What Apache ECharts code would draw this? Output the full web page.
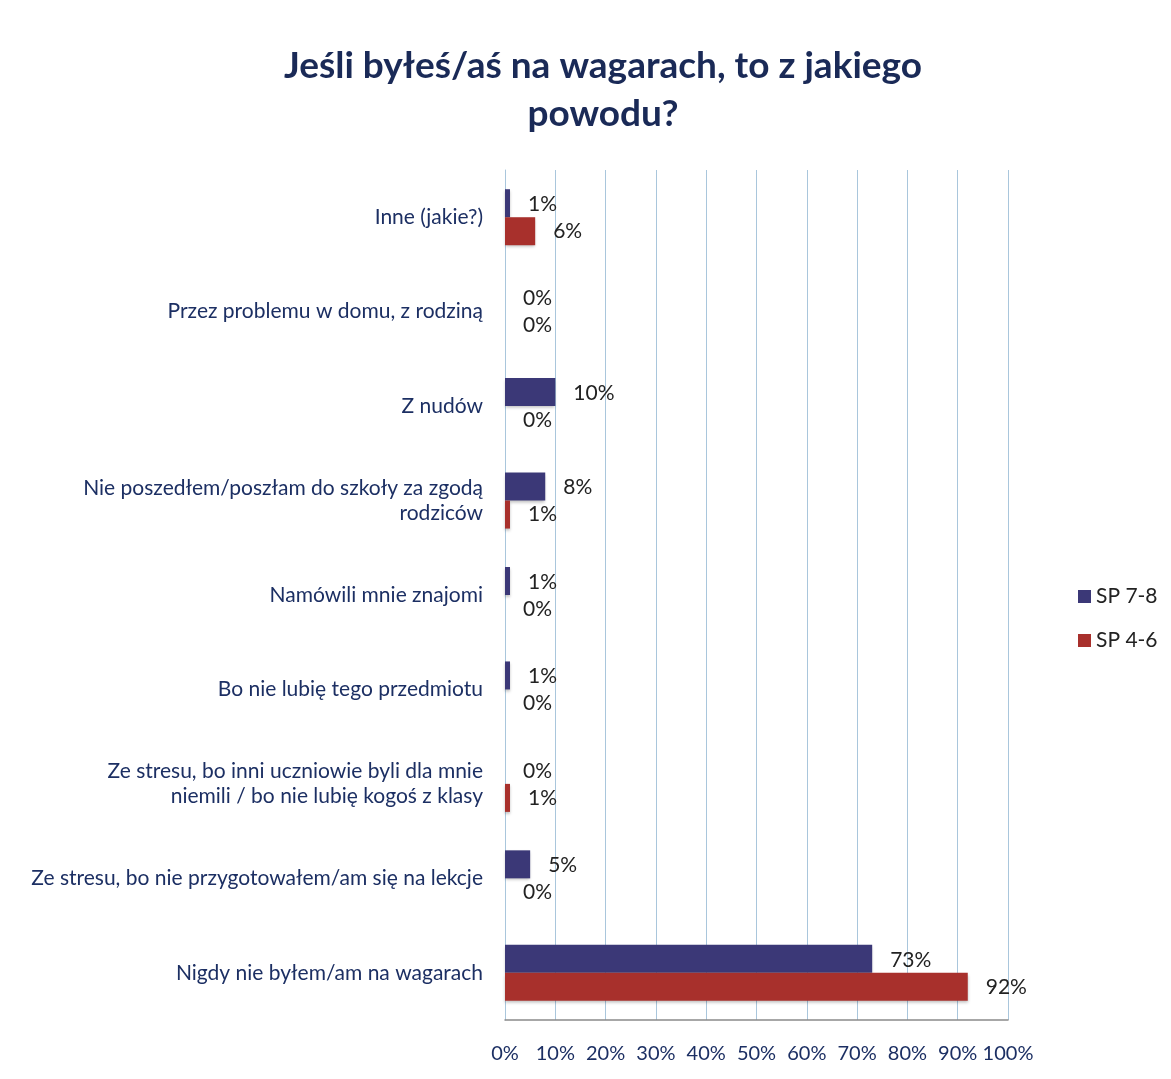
<!DOCTYPE html>
<html>
<head>
<meta charset="utf-8">
<script src="https://cdn.jsdelivr.net/npm/echarts@6/dist/echarts.min.js"></script>
<style>
  html, body { margin: 0; padding: 0; background: #fff; }
  #chart { width: 1171px; height: 1079px; }
</style>
</head>
<body>
<div id="chart"></div>
<script>
// categories listed bottom to top
var categories = [
    'Nigdy nie byłem/am na wagarach',
    'Ze stresu, bo nie przygotowałem/am się na lekcje',
    'Ze stresu, bo inni uczniowie byli dla mnie\nniemili / bo nie lubię kogoś z klasy',
    'Bo nie lubię tego przedmiotu',
    'Namówili mnie znajomi',
    'Nie poszedłem/poszłam do szkoły za zgodą\nrodziców',
    'Z nudów',
    'Przez problemu w domu, z rodziną',
    'Inne (jakie?)'
];
var sp78 = [73, 5, 0, 1, 1, 8, 10, 0, 1];
var sp46 = [92, 0, 1, 0, 0, 1, 0, 0, 6];

var textColor = '#1c2f63';
var fontFam = 'Lato, "Open Sans", sans-serif';

var chart = echarts.init(document.getElementById('chart'));

var option = {
    backgroundColor: '#ffffff',
    title: {
        text: 'Jeśli byłeś/aś na wagarach, to z jakiego\npowodu?',
        left: 598,
        top: 37,
        textAlign: 'center',
        textStyle: {
            fontFamily: fontFam,
            fontSize: 37,
            fontWeight: 'bold',
            color: '#1a2a57',
            lineHeight: 48
        }
    },
    legend: {
        orient: 'vertical',
        left: 1073,
        top: 581,
        itemWidth: 13,
        itemHeight: 13,
        itemGap: 23,
        icon: 'rect',
        data: ['SP 7-8', 'SP 4-6'],
        textStyle: { fontFamily: fontFam, fontSize: 21, color: '#222' }
    },
    grid: {
        left: 505,
        right: 163,
        top: 170,
        bottom: 59,
        containLabel: false
    },
    xAxis: {
        type: 'value',
        min: 0,
        max: 100,
        interval: 10,
        axisLabel: {
            formatter: '{value}%',
            fontFamily: fontFam,
            fontSize: 20,
            color: textColor,
            margin: 24
        },
        axisLine: { show: true, lineStyle: { color: '#8a8a8a', width: 1.5 } },
        axisTick: { show: false },
        splitLine: { show: true, lineStyle: { color: '#a9c6dc', width: 1 } }
    },
    yAxis: {
        type: 'category',
        data: categories,
        axisLabel: {
            fontFamily: fontFam,
            fontSize: 21,
            color: textColor,
            align: 'right',
            lineHeight: 25,
            margin: 22
        },
        axisLine: { show: true, lineStyle: { color: '#a9c6dc' } },
        axisTick: { show: false },
        splitLine: { show: false }
    },
    series: [
        {
            name: 'SP 7-8',
            type: 'bar',
            data: sp78,
            barWidth: 28,
            barGap: '0%',
            itemStyle: {
                color: '#3b3877',
                shadowColor: 'rgba(0,0,0,0.25)',
                shadowBlur: 3,
                shadowOffsetY: 2
            },
            label: {
                show: true,
                position: 'right',
                distance: 18,
                offset: [0, 1],
                formatter: '{c}%',
                fontFamily: fontFam,
                fontSize: 21,
                color: '#222'
            }
        },
        {
            name: 'SP 4-6',
            type: 'bar',
            data: sp46,
            barWidth: 28,
            itemStyle: {
                color: '#a8302c',
                shadowColor: 'rgba(0,0,0,0.25)',
                shadowBlur: 3,
                shadowOffsetY: 2
            },
            label: {
                show: true,
                position: 'right',
                distance: 18,
                offset: [0, 0],
                formatter: '{c}%',
                fontFamily: fontFam,
                fontSize: 21,
                color: '#222'
            }
        }
    ]
};

option && chart.setOption(option);
</script>
</body>
</html>
